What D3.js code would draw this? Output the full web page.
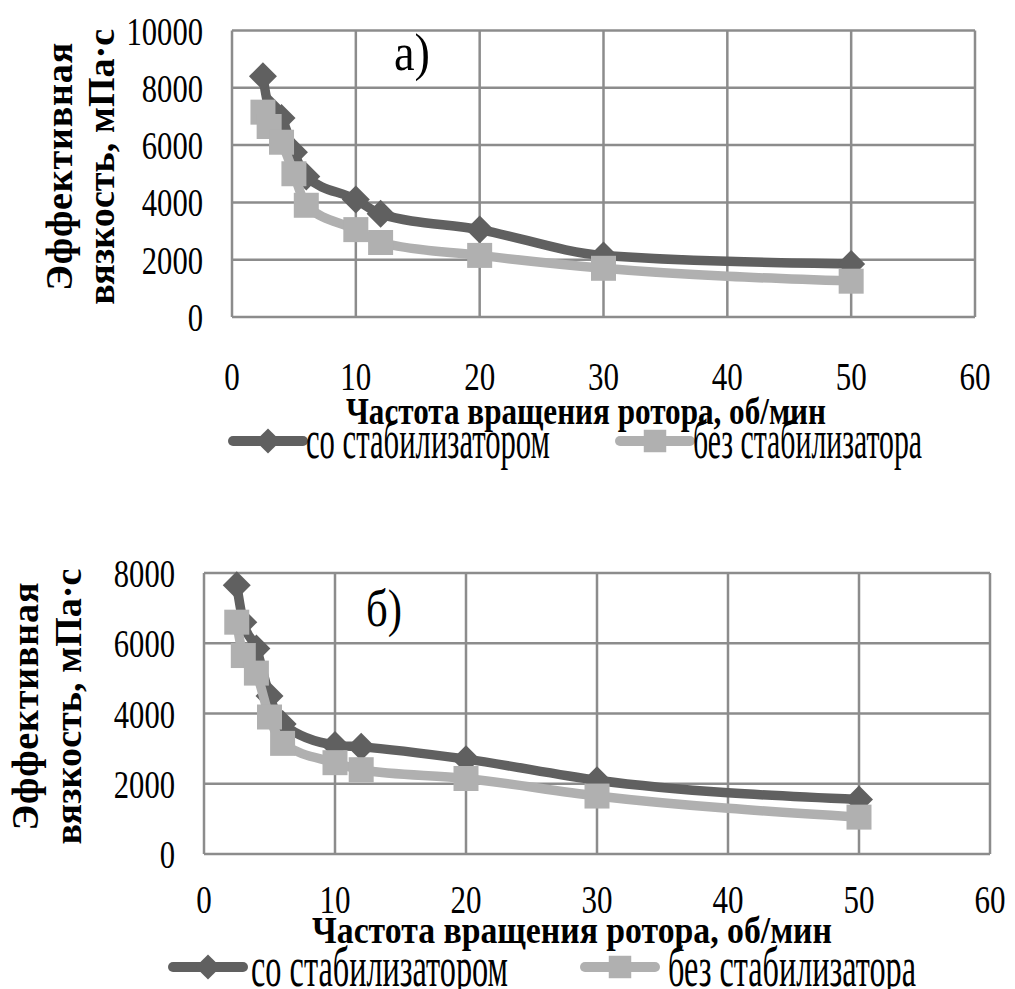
<!DOCTYPE html>
<html>
<head>
<meta charset="utf-8">
<script src="https://cdn.jsdelivr.net/npm/d3@7"></script>
<style>
  body { margin: 0; background: #fff; }
  text { fill: #000; }
</style>
</head>
<body>
<script>
const speeds = [2.5, 3, 4, 5, 6, 10, 12, 20, 30, 50];
// а) panel
const viscWithA = [8400, 7300, 6950, 5750, 4900, 4100, 3600, 3050, 2150, 1850];
const viscWithoutA = [7150, 6650, 6100, 5000, 3900, 3050, 2600, 2150, 1700, 1250];
// б) panel
const viscWithB = [7650, 6600, 5850, 4500, 3700, 3100, 3050, 2700, 2100, 1550];
const viscWithoutB = [6600, 5650, 5150, 3900, 3150, 2600, 2400, 2150, 1650, 1050];

const xTicks = [0, 10, 20, 30, 40, 50, 60];
const yTicksA = [0, 2000, 4000, 6000, 8000, 10000];
const yTicksB = [0, 2000, 4000, 6000, 8000];

const seriesNames = ["со стабилизатором", "без стабилизатора"];
const xTitle = "Частота вращения ротора, об/мин";
const yTitle1 = "Эффективная";
const yTitle2 = "вязкость, мПа·с";

const darkCol = "#606060";
const lightCol = "#b0b0b0";
const gridCol = "#8c8c8c";
const serif = "'Liberation Serif', 'Times New Roman', serif";

const svg = d3.select("body").append("svg")
    .attr("width", 1015)
    .attr("height", 989);

function addText(g, str, x, y, size, opts = {}) {
    const t = g.append("text")
        .attr("x", x)
        .attr("y", y)
        .attr("font-family", serif)
        .attr("font-size", size)
        .attr("font-weight", opts.bold ? "bold" : "normal")
        .attr("text-anchor", opts.anchor || "start")
        .text(str);
    if (opts.len) {
        t.attr("textLength", opts.len)
         .attr("lengthAdjust", opts.adjust || "spacingAndGlyphs");
    }
    if (opts.rotate) t.attr("transform", `rotate(-90, ${x}, ${y})`);
    return t;
}

const diamond = d3.symbol(d3.symbolSquare, 392)();
const square = d3.symbol(d3.symbolSquare, 625)();

function panel(o) {
    const x = d3.scaleLinear().domain([0, 60]).range([o.left, o.right]);
    const y = d3.scaleLinear().domain([0, o.yMax]).range([o.bottom, o.top]);
    const g = svg.append("g");

    // сетка
    g.selectAll(".vgrid").data(xTicks).enter().append("line")
        .attr("x1", d => x(d)).attr("x2", d => x(d))
        .attr("y1", o.top).attr("y2", o.bottom)
        .attr("stroke", gridCol).attr("stroke-width", 2.5);
    g.selectAll(".hgrid").data(o.yTicks).enter().append("line")
        .attr("x1", o.left).attr("x2", o.right)
        .attr("y1", d => y(d)).attr("y2", d => y(d))
        .attr("stroke", gridCol).attr("stroke-width", 2.5);

    // подписи делений
    o.yTicks.forEach(v => {
        const s = String(v);
        addText(g, s, o.left - 29, y(v) + o.yLabDy, 40, { anchor: "end", len: s.length * 15.3 });
    });
    xTicks.forEach(v => {
        const s = String(v);
        addText(g, s, x(v), o.xLabY, 40, { anchor: "middle", len: s.length * 15.5 });
    });

    // подписи осей
    addText(g, xTitle, o.xTitleX, o.xTitleY, 37, { bold: true, anchor: "middle", len: o.xTitleLen });
    const yc = (o.top + o.bottom) / 2 - 7;
    addText(g, yTitle1, o.yT1, yc, 38, { bold: true, anchor: "middle", len: 248, adjust: "spacing", rotate: true });
    addText(g, yTitle2, o.yT2, yc, 38, { bold: true, anchor: "middle", len: 276, adjust: "spacing", rotate: true });

    addText(g, o.label, o.labelX, o.labelY, 52, { anchor: "middle", len: 36 });

    // линии и маркеры
    const line = d3.line()
        .x((d, i) => x(speeds[i]))
        .y(d => y(d))
        .curve(d3.curveMonotoneX);

    g.append("path").datum(o.withData)
        .attr("d", line).attr("fill", "none")
        .attr("stroke", darkCol).attr("stroke-width", 9.5)
        .attr("stroke-linejoin", "round");
    g.selectAll(".dia").data(o.withData).enter().append("path")
        .attr("d", diamond)
        .attr("transform", (d, i) => `translate(${x(speeds[i])},${y(d)}) rotate(45)`)
        .attr("fill", darkCol);

    g.append("path").datum(o.withoutData)
        .attr("d", line).attr("fill", "none")
        .attr("stroke", lightCol).attr("stroke-width", 9.5)
        .attr("stroke-linejoin", "round");
    g.selectAll(".sq").data(o.withoutData).enter().append("path")
        .attr("d", square)
        .attr("transform", (d, i) => `translate(${x(speeds[i])},${y(d)})`)
        .attr("fill", lightCol);

    // легенда
    const lg = o.legend;
    [
        { col: darkCol, sym: diamond, rot: 45, ...lg[0] },
        { col: lightCol, sym: square, rot: 0, ...lg[1] }
    ].forEach((e, i) => {
        g.append("line")
            .attr("x1", e.cx - 35).attr("x2", e.cx + 35)
            .attr("y1", o.legendY).attr("y2", o.legendY)
            .attr("stroke", e.col).attr("stroke-width", 10)
            .attr("stroke-linecap", "round");
        g.append("path")
            .attr("d", e.sym)
            .attr("transform", `translate(${e.cx},${o.legendY}) rotate(${e.rot}) scale(0.9)`)
            .attr("fill", e.col);
        addText(g, seriesNames[i], e.tx, o.legendTextY, o.legendSize, { len: e.tlen });
    });
}

panel({
    left: 232, right: 975, top: 30.5, bottom: 317,
    yMax: 10000, yTicks: yTicksA, yLabDy: 14, xLabY: 390,
    withData: viscWithA, withoutData: viscWithoutA,
    xTitleX: 586, xTitleY: 424, xTitleLen: 480,
    yT1: 72, yT2: 114,
    label: "а)", labelX: 412, labelY: 70,
    legendY: 441, legendTextY: 458, legendSize: 54,
    legend: [{ cx: 268, tx: 306, tlen: 244 }, { cx: 655, tx: 693, tlen: 229 }]
});

panel({
    left: 204, right: 990, top: 573, bottom: 854,
    yMax: 8000, yTicks: yTicksB, yLabDy: 14, xLabY: 913,
    withData: viscWithB, withoutData: viscWithoutB,
    xTitleX: 572, xTitleY: 943, xTitleLen: 520,
    yT1: 38, yT2: 81,
    label: "б)", labelX: 384, labelY: 626,
    legendY: 967, legendTextY: 986, legendSize: 58,
    legend: [{ cx: 208, tx: 251, tlen: 257 }, { cx: 620, tx: 668, tlen: 248 }]
});
</script>
</body>
</html>
